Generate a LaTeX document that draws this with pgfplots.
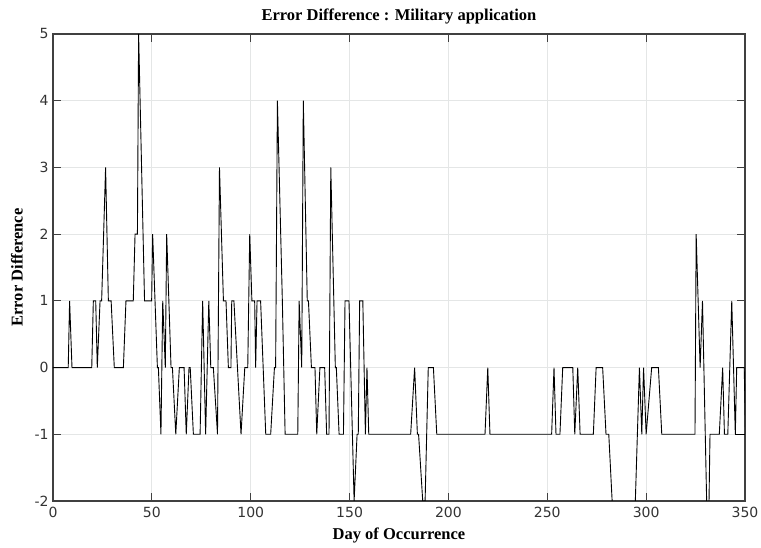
\documentclass[border=0pt]{standalone}
\usepackage{fontspec}
\setmainfont{Liberation Serif}
\newfontfamily\tickfont{DejaVu Sans}
\usepackage{pgfplots}
\pgfplotsset{compat=1.18}
\definecolor{gridgray}{HTML}{E4E6E6}
\definecolor{axgray}{HTML}{404040}
\begin{document}
\begin{tikzpicture}
\begin{axis}[
  name=ax,
  scale only axis,
  width=692pt, height=467pt,
  xmin=0, xmax=350, ymin=-2, ymax=5,
  xtick={0,50,...,350}, ytick={-2,-1,...,5},
  grid=major,
  major grid style={gridgray, line width=0.8pt},
  axis line style={axgray, line width=1.3pt},
  tick style={axgray, line width=1.2pt},
  tick align=inside,
  major tick length=8pt,
  /pgf/number format/assume math mode=true,
  ticklabel style={font=\tickfont\fontsize{14}{16}\selectfont, text=axgray!80!black},
  xticklabel style={yshift=-3pt},
  yticklabel style={xshift=-1pt},
  title={Error Difference : Military application},
  title style={font=\bfseries\fontsize{16.5}{18}\selectfont, at={(axis description cs:0.5,1)}, anchor=center, yshift=12pt},
  xlabel={Day of Occurrence},
  xlabel style={font=\bfseries\fontsize{16.5}{18}\selectfont, at={(axis description cs:0.5,0)}, anchor=center, yshift=-34pt},
  ylabel={Error Difference},
  ylabel style={font=\bfseries\fontsize{16.5}{18}\selectfont, at={(axis description cs:-0.052,0.5)}, anchor=center},
]
\addplot[black, line width=0.9pt, line join=miter] coordinates {
(0,0)(7.7,0)(8.4,1)(9.6,0)(19.6,0)(20.4,1)(21.6,1)(22.4,0)(23.8,1)(24.6,1)(26.6,3)(28,1)(29.4,1)(31,0)(35.6,0)(36.9,1)(40.6,1)(41.5,2)(42.7,2)(43.3,5)(46.3,1)(49.9,1)(50.4,2)(52.8,0)(53.3,0)(54.6,-1)(55.5,1)(56.8,0)(57.5,2)(59.7,0)(60.4,0)(62.1,-1)(63.9,0)(66.3,0)(67.4,-1)(68.8,0)(69.4,0)(71,-1)(74.4,-1)(75.7,1)(77.2,-1)(78.8,1)(79.8,0)(81.1,0)(83.2,-1)(84.2,3)(86.2,1)(87.5,1)(88.7,0)(90,0)(90.4,1)(91.5,1)(95.1,-1)(97,0)(98.5,0)(99.5,2)(100.6,1)(102,1)(102.5,0)(103.2,1)(105,1)(107.6,-1)(110.1,-1)(112,0)(112.6,0)(113.5,4)(116,1)(117.4,-1)(123.8,-1)(124.5,1)(125.8,0)(126.6,4)(128.6,1)(129.2,1)(130.7,0)(132.5,0)(133.4,-1)(135,0)(137.4,0)(138.4,-1)(139.6,-1)(140.5,3)(142.8,0)(143.3,0)(144.7,-1)(146.9,-1)(147.7,1)(149.7,1)(152.3,-2)(153.8,-1)(154.4,-1)(155.1,1)(156.7,1)(158,-1)(158.8,0)(159.7,-1)(180.9,-1)(182.9,0)(184.3,-1)(184.9,-1)(187,-2)(188.2,-2)(189.8,0)(192.4,0)(194.1,-1)(218.5,-1)(219.9,0)(221,-1)(252.2,-1)(253.4,0)(254.4,-1)(256.4,-1)(257.8,0)(262.9,0)(263.9,-1)(265.4,0)(266.6,-1)(273.3,-1)(274.7,0)(278,0)(279.7,-1)(281.1,-1)(284.5,-3)(293.5,-3)(296.6,0)(297.8,-1)(298.7,0)(300,-1)(302.8,0)(306.2,0)(307.9,-1)(324.7,-1)(325.3,2)(327.3,0)(328.5,1)(331.3,-3)(332.3,-1)(337,-1)(338.7,0)(339.6,-1)(341.3,-1)(343.3,1)(345.1,-1)(345.8,0)(349.6,0)(350.3,-1)
};
\addplot[black, line width=0.9pt] coordinates {(345.1,-1)(350,-1)};
\end{axis}
\pgfresetboundingbox
\path ([shift={(-53pt,-47pt)}]ax.south west) rectangle ([shift={(16pt,34pt)}]ax.north east);
\end{tikzpicture}
\end{document}
